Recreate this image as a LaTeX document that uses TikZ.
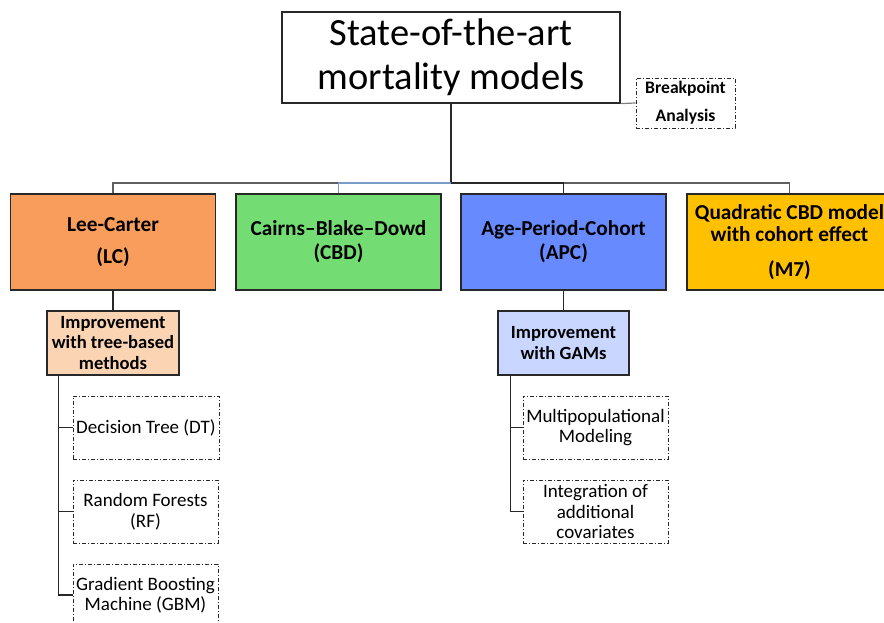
\documentclass[tikz,border=0pt]{standalone}
\usepackage{fontspec}
\setmainfont{Carlito}
\definecolor{lcfill}{RGB}{249,157,92}
\definecolor{cbdfill}{RGB}{115,220,115}
\definecolor{apcfill}{RGB}{103,139,255}
\definecolor{mfill}{RGB}{255,192,0}
\definecolor{treefill}{RGB}{251,212,180}
\definecolor{gamfill}{RGB}{201,214,255}
\definecolor{linec}{RGB}{40,40,40}
\tikzset{
  box/.style={draw=linec, line width=1.2pt, inner sep=0pt, align=center, font=\bfseries},
  dbox/.style={draw=linec, line width=0.8pt, inner sep=0pt, align=center,
    dash pattern=on 4pt off 2pt on 1pt off 2pt},
  conn/.style={draw=linec, line width=1.2pt},
}
\begin{document}
\begin{tikzpicture}[x=1pt,y=-1pt]
\useasboundingbox (0,0) rectangle (884,623);
\clip (0,0) rectangle (884,623);
% title
\node[box, font=\fontsize{38.5}{44}\selectfont, minimum width=338pt, minimum height=91pt] (title) at (451,57.5) {State-of-the-art\\mortality models};
\node[dbox, font=\bfseries\fontsize{17.6}{28}\selectfont, minimum width=99pt, minimum height=50pt] (brk) at (685.5,103) {Breakpoint\\Analysis};
% main models
\node[box, fill=lcfill, font=\bfseries\fontsize{21.3}{25}\selectfont, minimum width=205pt, minimum height=96pt] (lc) at (113,242) {Lee-Carter\\[7pt](LC)};
\node[box, fill=cbdfill, font=\bfseries\fontsize{21.3}{24}\selectfont, minimum width=205pt, minimum height=96pt] (cbd) at (338.5,242) {Cairns–Blake–Dowd\\(CBD)};
\node[box, fill=apcfill, font=\bfseries\fontsize{21.3}{24}\selectfont, minimum width=205pt, minimum height=96pt] (apc) at (563.5,242) {Age-Period-Cohort\\(APC)};
\node[box, fill=mfill, font=\bfseries\fontsize{21.3}{22.5}\selectfont, minimum width=205pt, minimum height=96pt] (m7) at (789.5,242) {Quadratic CBD model\\with cohort effect\\[12pt](M7)};
% improvements
\node[box, fill=treefill, font=\bfseries\fontsize{18.6}{20.5}\selectfont, minimum width=132pt, minimum height=64pt] (tree) at (113,343) {Improvement\\with tree-based\\methods};
\node[box, fill=gamfill, font=\bfseries\fontsize{18.6}{20.5}\selectfont, minimum width=131pt, minimum height=64pt] (gam) at (563.5,343) {Improvement\\with GAMs};
% leaves
\node[dbox, font=\fontsize{19}{20.5}\selectfont, minimum width=146pt, minimum height=63pt] (dt) at (146,427.5) {Decision Tree (DT)};
\node[dbox, font=\fontsize{19}{20.5}\selectfont, minimum width=145pt, minimum height=63pt] (rf) at (145.5,511.5) {Random Forests\\(RF)};
\node[dbox, font=\fontsize{19}{20.5}\selectfont, minimum width=145pt, minimum height=62pt] (gbm) at (145.5,595) {Gradient Boosting\\Machine (GBM)};
\node[dbox, font=\fontsize{19}{20.5}\selectfont, minimum width=145pt, minimum height=63pt] (mp) at (595.5,427.5) {Multipopulational\\Modeling};
\node[dbox, font=\fontsize{19}{20.5}\selectfont, minimum width=145pt, minimum height=63pt] (ic) at (595.5,511.5) {Integration of\\additional\\covariates};
% connectors
\coordinate (busc) at (451,183);
\draw[conn] (title.south) -- (busc);
\draw[conn, draw=linec!75] (busc) -| (lc.north);
\draw[conn, draw=linec!75] (busc) -| (m7.north);
\draw[conn] (busc) -| (apc.north);
\draw[line width=1.2pt, draw={rgb,255:red,120;green,155;blue,200}] (busc) -| (cbd.north);
\draw[conn, draw=gray] (title.south east) -- (brk.west);
\draw[conn] (lc.south) -- (tree.north);
\draw[conn] (apc.south) -- (gam.north);
\draw[conn] ([xshift=12pt]tree.south west) |- (dt.west);
\draw[conn] ([xshift=12pt]tree.south west) |- (rf.west);
\draw[conn] ([xshift=12pt]tree.south west) |- (gbm.west);
\draw[conn] ([xshift=13pt]gam.south west) |- (mp.west);
\draw[conn] ([xshift=13pt]gam.south west) |- (ic.west);
\end{tikzpicture}
\end{document}
